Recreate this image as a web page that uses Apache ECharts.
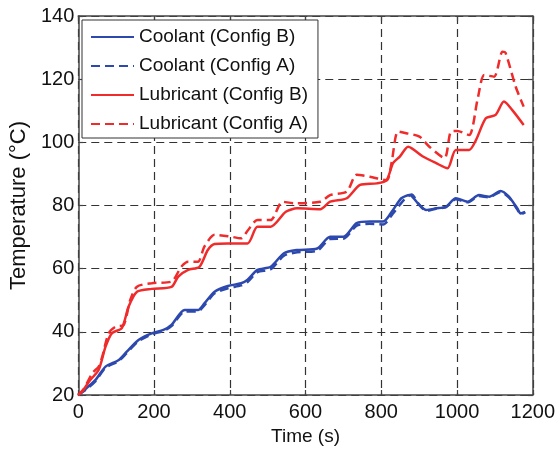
<!DOCTYPE html>
<html>
<head>
<meta charset="utf-8">
<script src="https://cdn.jsdelivr.net/npm/echarts@6/dist/echarts.min.js"></script>
<style>
  html, body { margin: 0; padding: 0; background: #fff; }
  #chart { width: 558px; height: 454px; }
</style>
</head>
<body>
<div id="chart"></div>
<script>
// values (time in s, temperature in °C)
var coolBTime = [0, 20, 45, 72, 107, 128, 159, 194, 225, 246, 281, 316, 333, 360, 395, 430, 447, 473, 508, 543, 578, 631, 665, 700, 735, 770, 805, 831, 853, 875, 897, 919, 945, 971, 997, 1028, 1058, 1085, 1115, 1137, 1159, 1168, 1180];
var coolBTemp = [20, 22, 24.7, 29, 31.1, 33.7, 37.4, 39.5, 40.6, 42.2, 46.9, 46.9, 49, 52.7, 54.5, 55.4, 56.5, 59.6, 60.6, 64.9, 65.9, 66.4, 70.1, 70.1, 74.4, 74.9, 74.9, 78.6, 82.3, 83.3, 80.7, 78.6, 79.1, 79.6, 82.3, 81.2, 83.3, 82.8, 84.6, 82.8, 79.1, 77.5, 78];

var coolATime = [0, 20, 45, 72, 107, 128, 159, 194, 225, 246, 281, 316, 333, 360, 395, 430, 447, 473, 508, 543, 578, 631, 665, 700, 735, 770, 805, 831, 860, 880, 900, 919, 945, 971, 997, 1028, 1058, 1085, 1115, 1137, 1159, 1168, 1180];
var coolATemp = [20, 21.7, 24.3, 28.6, 30.8, 33.3, 37, 39.2, 40.3, 41.8, 46.4, 46.5, 48.4, 52.2, 53.8, 54.7, 55.8, 58.9, 59.8, 64.1, 65.2, 65.7, 69.4, 69.5, 73.6, 74.2, 74, 77.5, 81.8, 83.5, 80.2, 78.3, 79, 79.5, 82, 81, 83, 82.6, 84.3, 82.6, 78.8, 77.2, 77.8];

var lubBTime = [0, 10, 30, 54, 72, 89, 115, 133, 155, 194, 246, 264, 290, 320, 342, 360, 395, 447, 473, 508, 548, 578, 639, 665, 709, 744, 788, 814, 831, 849, 871, 910, 945, 975, 997, 1032, 1050, 1076, 1102, 1124, 1146, 1176];
var lubBTemp = [20, 21, 24.5, 28, 35.3, 39.6, 41.2, 48, 52.7, 53.6, 54.2, 57.5, 59.6, 60.6, 65.9, 67.8, 68, 68, 73.3, 73.3, 78, 79.1, 78.8, 81.2, 82.3, 86.5, 87, 88, 93.4, 95.5, 98.6, 95.5, 93.4, 91.8, 97.6, 97.6, 100.7, 107.6, 108.7, 112.9, 110.2, 105.5];

var lubATime = [0, 15, 37, 54, 63, 80, 98, 120, 137, 155, 194, 246, 272, 290, 316, 333, 360, 395, 430, 447, 473, 508, 539, 569, 639, 665, 709, 735, 770, 814, 827, 844, 866, 901, 927, 967, 984, 1001, 1032, 1054, 1072, 1098, 1120, 1128, 1155, 1176];
var lubATemp = [20, 22, 26.9, 29, 32, 39.5, 41.6, 42.2, 50, 54.3, 55.4, 55.9, 60.6, 62.2, 62.2, 67, 70.7, 70.3, 69.6, 72, 75.4, 75.4, 81.2, 80.7, 81.2, 83.3, 84.4, 89.7, 89.1, 88, 93.4, 103.4, 102.9, 101.8, 98.6, 95, 103.4, 103.6, 102.3, 113.4, 121.3, 120.8, 128.7, 128.4, 117.6, 111.3];

var seriesNames = ['Coolant (Config B)', 'Coolant (Config A)', 'Lubricant (Config B)', 'Lubricant (Config A)'];
var xTicks = { min: 0, max: 1200, step: 200 };
var yTicks = { min: 20, max: 140, step: 20 };

var blue = '#2d49ad';
var red = '#ef2b2b';
var font = 'Liberation Sans, Arial, sans-serif';

function pairs(xs, ys) {
    return xs.map(function (x, i) { return [x, ys[i]]; });
}

function lineSeries(name, xs, ys, color, dashed) {
    return {
        name: name,
        type: 'line',
        data: pairs(xs, ys),
        symbol: 'none',
        showSymbol: false,
        smooth: 0.25,
        lineStyle: { color: color, width: 2.5, type: dashed ? [9, 5] : 'solid' },
        itemStyle: { color: color }
    };
}

var boxLine = { show: true, onZero: false, lineStyle: { color: '#444', width: 1.5 } };
var innerTick = { show: true, inside: true, length: 5, lineStyle: { color: '#444', width: 1.2 } };
var gridDash = { show: true, lineStyle: { color: '#333', width: 1.2, type: [8, 5] } };

var myChart = echarts.init(document.getElementById('chart'));
myChart.setOption({
    animation: false,
    backgroundColor: '#fff',
    grid: { left: 76, right: 24, top: 16, bottom: 59 },
    legend: {
        orient: 'vertical',
        left: 82,
        top: 20,
        data: seriesNames,
        backgroundColor: '#fff',
        borderColor: '#333',
        borderWidth: 1,
        padding: [7, 10, 4, 8],
        itemWidth: 43,
        itemHeight: 14,
        itemGap: 9,
        itemStyle: { opacity: 0 },
        textStyle: { fontFamily: font, fontSize: 19, color: '#111', lineHeight: 20 }
    },
    xAxis: [{
        type: 'value',
        min: xTicks.min, max: xTicks.max, interval: xTicks.step,
        name: 'Time (s)',
        nameLocation: 'middle',
        nameGap: 31,
        nameTextStyle: { fontFamily: font, fontSize: 19, color: '#111' },
        axisLine: boxLine,
        axisTick: innerTick,
        axisLabel: { fontFamily: font, fontSize: 20, color: '#111', margin: 7, formatter: function (v) { return String(v); } },
        splitLine: gridDash
    }, {
        type: 'value', position: 'top',
        min: xTicks.min, max: xTicks.max, interval: xTicks.step,
        axisLine: boxLine, axisTick: innerTick,
        axisLabel: { show: false }, splitLine: { show: false }
    }],
    yAxis: [{
        type: 'value',
        min: yTicks.min, max: yTicks.max, interval: yTicks.step,
        name: 'Temperature (°C)',
        nameLocation: 'middle',
        nameGap: 48,
        nameTextStyle: { fontFamily: font, fontSize: 22, color: '#111' },
        axisLine: boxLine,
        axisTick: innerTick,
        axisLabel: { fontFamily: font, fontSize: 20, color: '#111', margin: 4 },
        splitLine: gridDash
    }, {
        type: 'value', position: 'right',
        min: yTicks.min, max: yTicks.max, interval: yTicks.step,
        axisLine: boxLine, axisTick: innerTick,
        axisLabel: { show: false }, splitLine: { show: false }
    }],
    series: [
        lineSeries(seriesNames[0], coolBTime, coolBTemp, blue, false),
        lineSeries(seriesNames[1], coolATime, coolATemp, blue, true),
        lineSeries(seriesNames[2], lubBTime, lubBTemp, red, false),
        lineSeries(seriesNames[3], lubATime, lubATemp, red, true)
    ]
});
</script>
</body>
</html>
